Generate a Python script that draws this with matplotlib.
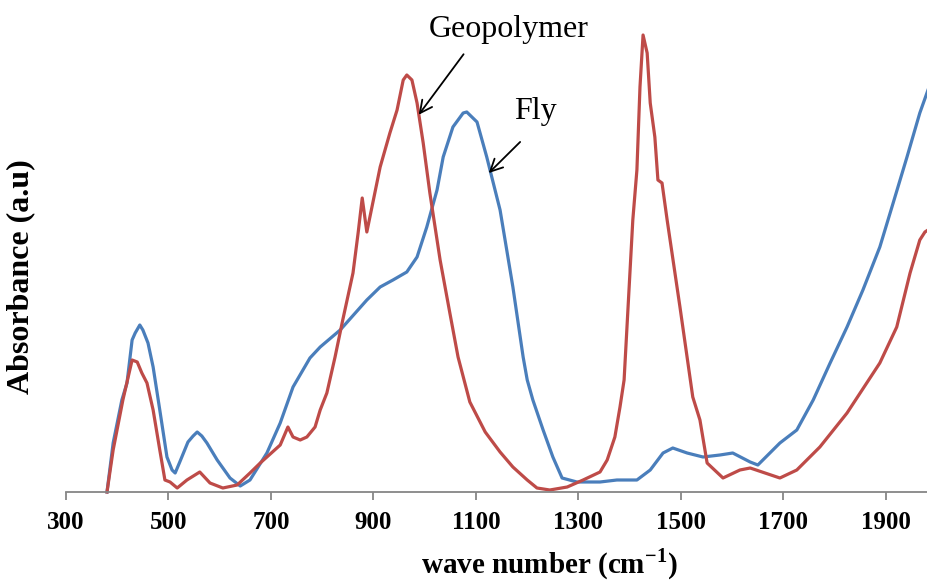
import matplotlib
matplotlib.use("Agg")
import matplotlib.pyplot as plt

plt.rcParams['font.family'] = ['Liberation Serif', 'DejaVu Serif']
plt.rcParams['mathtext.fontset'] = 'custom'
plt.rcParams['mathtext.rm'] = 'Liberation Serif'
plt.rcParams['mathtext.bf'] = 'Liberation Serif:bold'

# Fly ash spectrum (wave number, absorbance a.u.)
fly_x = [380, 392, 409, 419, 429, 435, 444, 450, 460, 470, 483, 497, 507, 513, 522, 538,
         548, 556, 565, 575, 595, 620, 640, 659, 692, 718, 743, 776, 796, 835, 887, 913,
         938, 965, 985, 1004, 1024, 1036, 1055, 1075, 1082, 1102, 1121, 1147, 1172, 1192,
         1200, 1211, 1231, 1250, 1268, 1297, 1342, 1375, 1414, 1440, 1465, 1484, 1512,
         1543, 1576, 1601, 1635, 1650, 1693, 1726, 1758, 1791, 1824, 1855, 1888, 1914,
         1941, 1966, 1982]
fly_y = [0.00, 0.49, 0.92, 1.09, 1.52, 1.59, 1.67, 1.62, 1.49, 1.25, 0.82, 0.35, 0.22, 0.19,
         0.30, 0.50, 0.56, 0.60, 0.56, 0.49, 0.32, 0.14, 0.06, 0.12, 0.39, 0.69, 1.05, 1.34,
         1.45, 1.62, 1.92, 2.05, 2.12, 2.20, 2.35, 2.65, 3.02, 3.35, 3.65, 3.79, 3.80, 3.70,
         3.35, 2.82, 2.05, 1.35, 1.12, 0.92, 0.62, 0.35, 0.14, 0.10, 0.10, 0.12, 0.12, 0.22,
         0.39, 0.44, 0.39, 0.35, 0.37, 0.39, 0.30, 0.27, 0.49, 0.62, 0.92, 1.29, 1.65, 2.02,
         2.45, 2.89, 3.35, 3.79, 4.02]

# Geopolymer spectrum
geo_x = [380, 392, 411, 429, 439, 448, 458, 470, 483, 493, 503, 517, 536, 561, 581, 606,
         634, 659, 679, 692, 718, 733, 743, 757, 770, 786, 796, 809, 825, 840, 860, 870,
         878, 887, 897, 913, 932, 946, 958, 965, 975, 985, 997, 1010, 1030, 1049, 1065,
         1088, 1118, 1147, 1172, 1200, 1219, 1244, 1278, 1309, 1342, 1356, 1371, 1381,
         1389, 1406, 1414, 1420, 1426, 1434, 1440, 1449, 1455, 1463, 1473, 1498, 1523,
         1537, 1551, 1582, 1615, 1635, 1693, 1726, 1771, 1824, 1888, 1921, 1947, 1966,
         1976, 1982]
geo_y = [0.00, 0.42, 0.92, 1.32, 1.30, 1.19, 1.09, 0.82, 0.42, 0.12, 0.10, 0.04, 0.12, 0.20,
         0.09, 0.04, 0.07, 0.19, 0.29, 0.35, 0.47, 0.65, 0.55, 0.52, 0.55, 0.65, 0.82, 0.99,
         1.35, 1.72, 2.19, 2.59, 2.94, 2.60, 2.85, 3.25, 3.59, 3.82, 4.12, 4.17, 4.12, 3.89,
         3.49, 2.99, 2.32, 1.79, 1.35, 0.90, 0.60, 0.40, 0.25, 0.12, 0.04, 0.02, 0.05, 0.12,
         0.20, 0.32, 0.55, 0.85, 1.12, 2.72, 3.22, 4.05, 4.57, 4.39, 3.89, 3.55, 3.12, 3.09,
         2.72, 1.85, 0.95, 0.72, 0.29, 0.14, 0.22, 0.24, 0.14, 0.22, 0.45, 0.79, 1.29, 1.65,
         2.19, 2.52, 2.60, 2.62]

xticks = [300, 500, 700, 900, 1100, 1300, 1500, 1700, 1900]

fig = plt.figure(figsize=(9.28, 5.81), dpi=100)
ax = fig.add_axes([66/928, 89/581, 1 - 66/928, 1 - 89/581])

ax.plot(fly_x, fly_y, color="#4A7EBB", lw=2.3, clip_on=False)
ax.plot(geo_x, geo_y, color="#BE4B48", lw=2.3, clip_on=False)

ax.set_xlim(300, 1982)
ax.set_ylim(0, 4.92)

for s in ["top", "right", "left"]:
    ax.spines[s].set_visible(False)
ax.spines["bottom"].set_color("#868686")
ax.spines["bottom"].set_linewidth(1.3)
ax.set_yticks([])
ax.set_xticks(xticks)
ax.tick_params(axis="x", direction="out", length=6, width=1.3, color="#868686",
               labelsize=18, pad=8)
for lbl in ax.get_xticklabels():
    lbl.set_fontweight("bold")

ax.set_xlabel("wave number (cm$^{\\mathbf{-1}}$)", fontsize=21, fontweight="bold")
ax.xaxis.set_label_coords(0.561, -0.11)
ax.set_ylabel("Absorbance (a.u)", fontsize=23, fontweight="bold")
ax.yaxis.set_label_coords(-0.036, 0.437)

arrow = dict(arrowstyle="->", lw=1.3, color="black", mutation_scale=22)
ax.annotate("", xy=(985, 3.75), xytext=(1079, 4.40), arrowprops=arrow)
ax.text(1164, 4.62, "Geopolymer", fontsize=23, ha="center", va="center")
ax.annotate("", xy=(1121, 3.17), xytext=(1190, 3.52), arrowprops=arrow)
ax.text(1215, 3.80, "Fly", fontsize=23, ha="center", va="center")

fig.savefig("out.png", dpi=100)
